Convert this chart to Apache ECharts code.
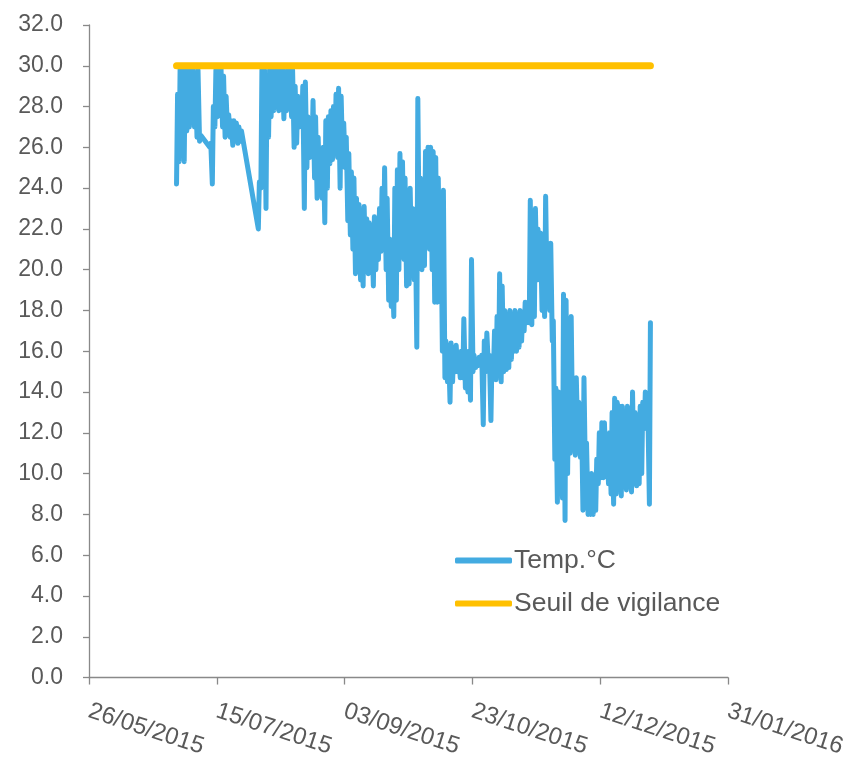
<!DOCTYPE html>
<html><head><meta charset="utf-8">
<script src="https://cdn.jsdelivr.net/npm/echarts@6/dist/echarts.min.js"></script>
<style>html,body{margin:0;padding:0;background:#fff}#c{width:863px;height:760px}</style>
</head><body><div id="c"></div>
<script>
// X axis tick labels (every 50 days)
const xTickLabels = ['26/05/2015','15/07/2015','03/09/2015','23/10/2015','12/12/2015','31/01/2016'];
const yTicks = [0,2,4,6,8,10,12,14,16,18,20,22,24,26,28,30,32];

// Days with temperature readings, daily low and high (°C)
const dates = [
'2015-06-29','2015-06-30','2015-07-01','2015-07-02','2015-07-03','2015-07-04','2015-07-05','2015-07-06','2015-07-07','2015-07-08',
'2015-07-12','2015-07-13','2015-07-14','2015-07-15','2015-07-16','2015-07-17','2015-07-18','2015-07-19','2015-07-20','2015-07-21','2015-07-22','2015-07-23','2015-07-24',
'2015-07-31','2015-08-01','2015-08-02','2015-08-03','2015-08-04','2015-08-05','2015-08-06','2015-08-07','2015-08-08','2015-08-09','2015-08-10',
'2015-08-11','2015-08-12','2015-08-13','2015-08-14','2015-08-15','2015-08-16','2015-08-17','2015-08-18','2015-08-19','2015-08-20',
'2015-08-21','2015-08-22','2015-08-23','2015-08-24','2015-08-25','2015-08-26','2015-08-27','2015-08-28','2015-08-29','2015-08-30','2015-08-31',
'2015-09-01','2015-09-02','2015-09-03','2015-09-04','2015-09-05','2015-09-06','2015-09-07','2015-09-08','2015-09-09','2015-09-10',
'2015-09-11','2015-09-12','2015-09-13','2015-09-14','2015-09-15','2015-09-16','2015-09-17','2015-09-18','2015-09-19','2015-09-20',
'2015-09-21','2015-09-22','2015-09-23','2015-09-24','2015-09-25','2015-09-26','2015-09-27','2015-09-28','2015-09-29','2015-09-30',
'2015-10-01','2015-10-02','2015-10-03','2015-10-04','2015-10-05','2015-10-06','2015-10-07','2015-10-08','2015-10-09','2015-10-10',
'2015-10-11','2015-10-12','2015-10-13','2015-10-14','2015-10-15','2015-10-16','2015-10-17','2015-10-18','2015-10-19','2015-10-20',
'2015-10-21','2015-10-22','2015-10-23','2015-10-24','2015-10-25','2015-10-26','2015-10-27','2015-10-28','2015-10-29','2015-10-30','2015-10-31',
'2015-11-01','2015-11-02','2015-11-03','2015-11-04','2015-11-05','2015-11-06','2015-11-07','2015-11-08','2015-11-09','2015-11-10',
'2015-11-11','2015-11-12','2015-11-13','2015-11-14','2015-11-15','2015-11-16','2015-11-17','2015-11-18','2015-11-19','2015-11-20',
'2015-11-21','2015-11-22','2015-11-23','2015-11-24','2015-11-25','2015-11-26','2015-11-27','2015-11-28','2015-11-29','2015-11-30',
'2015-12-01','2015-12-02','2015-12-03','2015-12-04','2015-12-05','2015-12-06','2015-12-07','2015-12-08','2015-12-09','2015-12-10',
'2015-12-11','2015-12-12','2015-12-13','2015-12-14','2015-12-15','2015-12-16','2015-12-17','2015-12-18','2015-12-19','2015-12-20',
'2015-12-21','2015-12-22','2015-12-23','2015-12-24','2015-12-25','2015-12-26','2015-12-27','2015-12-28','2015-12-29','2015-12-30','2015-12-31'
];
const dailyLow = [
24.2,25.3,26.0,25.3,26.8,27.0,27.3,27.0,26.5,26.3,
26.0,24.2,27.0,27.5,27.8,27.0,26.5,26.6,26.5,26.1,26.5,26.2,26.3,
22.0,24.0,25.0,23.0,26.5,27.5,27.8,28.0,27.8,28.0,27.4,
27.8,28.0,27.5,26.0,26.2,27.0,27.2,23.0,25.0,25.5,
25.8,24.5,23.5,24.0,23.5,22.3,24.0,25.2,25.4,26.0,25.5,
24.0,25.3,25.0,22.4,21.7,21.0,19.8,20.3,19.5,19.2,
20.0,19.8,20.3,19.2,20.0,20.5,20.9,21.0,20.0,18.5,
18.2,17.7,18.5,20.0,21.5,20.5,19.2,19.3,20.0,19.5,
16.2,20.5,20.0,20.2,21.5,21.0,20.0,18.4,18.4,19.0,
16.0,14.7,14.5,13.5,14.5,15.0,15.0,14.7,14.7,14.2,
14.0,13.6,15.0,15.2,15.3,15.3,12.4,15.0,15.3,12.6,15.0,
14.6,14.8,14.5,15.0,15.1,15.2,15.6,16.0,16.0,16.2,
16.5,17.0,17.4,17.4,17.3,17.7,19.5,19.5,18.0,17.7,
18.5,18.0,16.5,10.7,8.6,9.5,8.8,7.7,10.0,11.0,
11.5,10.9,11.5,10.8,8.2,9.5,8.0,8.0,8.0,8.2,
9.5,9.8,9.8,10.2,9.5,9.0,8.5,9.0,9.3,8.9,
9.5,9.2,9.4,9.1,9.5,9.4,9.5,10.0,12.2,12.5,8.5
];
const dailyHigh = [
28.6,30.0,29.8,30.0,29.9,29.8,29.9,29.5,29.8,26.6,
26.2,28.0,29.8,29.8,29.9,29.5,28.5,27.6,27.3,27.3,27.2,27.0,26.8,
24.3,29.8,29.8,29.5,29.8,30.0,29.8,30.0,29.8,30.0,29.6,
29.8,29.9,29.8,29.0,28.5,28.2,29.0,29.2,27.5,27.0,
28.3,27.5,26.5,25.8,26.0,27.3,27.5,27.8,28.0,28.6,28.9,
28.5,27.2,26.5,25.7,24.8,24.5,23.5,23.2,22.8,23.1,
22.5,22.3,22.0,22.6,22.0,23.0,24.0,25.0,23.5,21.5,
20.0,24.0,24.9,25.7,25.3,24.5,23.5,24.0,23.0,22.5,
28.4,24.5,23.5,25.8,26.0,26.0,25.8,25.5,24.5,23.5,
23.9,16.5,16.2,16.4,16.0,16.3,15.8,16.0,17.6,15.5,
16.0,20.5,15.8,15.6,15.7,15.8,16.5,16.9,15.8,15.6,17.0,
17.7,19.8,19.2,18.0,17.8,18.0,17.5,18.0,17.8,18.0,
17.8,18.4,18.3,23.4,22.5,23.0,22.0,21.8,20.5,23.6,
21.0,21.3,17.5,14.2,14.0,13.8,18.8,18.5,14.5,17.7,
14.0,14.7,13.5,13.2,14.7,11.5,9.8,10.0,9.9,10.7,
12.0,12.5,12.5,11.6,12.0,13.0,13.7,13.5,13.3,13.3,
13.0,13.3,12.8,14.0,13.0,12.5,13.3,13.5,14.0,13.0,17.4
];
const threshold = 30;
const thresholdFrom = '2015-06-29';
const thresholdTo = '2015-12-31';

const seriesNames = ['Temp.°C', 'Seuil de vigilance'];

// convert dates to days since first tick label
function parseDMY(s){const p=s.split('/');return Date.UTC(+p[2],+p[1]-1,+p[0]);}
const origin = parseDMY(xTickLabels[0]);
function dayOf(iso){const p=iso.split('-');return (Date.UTC(+p[0],+p[1]-1,+p[2])-origin)/864e5;}
const tickStep = (parseDMY(xTickLabels[1]) - origin)/864e5;

const tempData = [];
dates.forEach((d,i)=>{
  const t = dayOf(d);
  tempData.push([t+0.25, dailyLow[i]]);
  tempData.push([t+0.65, dailyHigh[i]]);
});
const thrData = [[dayOf(thresholdFrom)+0.25, threshold],[dayOf(thresholdTo)+0.65, threshold]];

const chart = echarts.init(document.getElementById('c'), null, {renderer:'canvas'});
const txt = '#595959', axisCol = '#898989';
const FONT = 'Liberation Sans, Arial, sans-serif';
chart.setOption({
  animation:false,
  grid:{left:89, right:135, top:25, bottom:79, containLabel:false},
  xAxis:{
    type:'value', min:0, max:tickStep*(xTickLabels.length-1), interval:tickStep,
    splitLine:{show:false},
    axisLine:{show:true, lineStyle:{color:axisCol, width:1.3}},
    axisTick:{show:true, length:7, lineStyle:{color:axisCol, width:1.3}},
    axisLabel:{
      color:txt, fontFamily:FONT, fontSize:24,
      rotate:-18, align:'left', verticalAlign:'middle', margin:33,
      formatter:v=>xTickLabels[Math.round(v/tickStep)]
    }
  },
  yAxis:{
    type:'value', min:yTicks[0], max:yTicks[yTicks.length-1], interval:yTicks[1]-yTicks[0],
    splitLine:{show:false},
    axisLine:{show:true, lineStyle:{color:axisCol, width:1.3}},
    axisTick:{show:true, length:6, lineStyle:{color:axisCol, width:1.3}},
    axisLabel:{color:txt, fontFamily:FONT, fontSize:23, margin:26,
      formatter:v=>v.toFixed(1)}
  },
  legend:{
    orient:'vertical', left:455, top:547, padding:0, itemWidth:57, itemHeight:6, itemGap:16,
    icon:'roundRect',
    textStyle:{color:txt, fontFamily:FONT, fontSize:26.5, padding:[0,0,0,-3]},
    data:seriesNames
  },
  series:[
    {name:seriesNames[0], type:'line', data:tempData, showSymbol:false, symbol:'none',
     color:'#43ABE1', lineStyle:{width:5, color:'#43ABE1', cap:'round', join:'round'}},
    {name:seriesNames[1], type:'line', data:thrData, showSymbol:false, symbol:'none',
     color:'#FFC000', lineStyle:{width:7, color:'#FFC000', cap:'round'}}
  ]
});
</script></body></html>
